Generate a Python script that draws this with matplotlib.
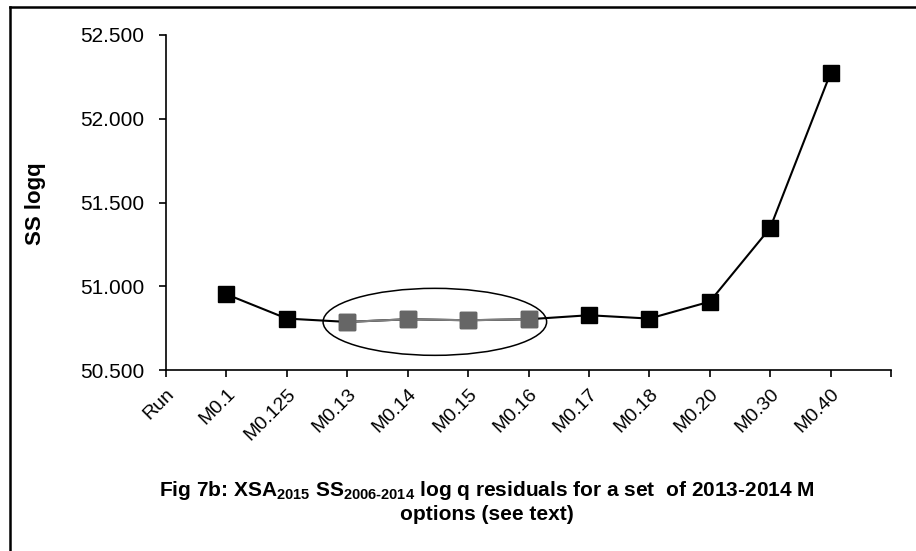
import matplotlib
matplotlib.use("Agg")
import matplotlib.pyplot as plt
from matplotlib.patches import Ellipse
from matplotlib.lines import Line2D
import matplotlib.transforms as mtransforms
import numpy as np

plt.rcParams['font.family'] = ['Liberation Sans', 'DejaVu Sans']
plt.rcParams['mathtext.fontset'] = 'custom'
plt.rcParams['mathtext.rm'] = 'Liberation Sans:bold'
plt.rcParams['mathtext.bf'] = 'Liberation Sans:bold'

categories = ["Run", "M0.1", "M0.125", "M0.13", "M0.14", "M0.15", "M0.16",
              "M0.17", "M0.18", "M0.20", "M0.30", "M0.40"]
ss_logq = [None, 50.952, 50.807, 50.787, 50.803, 50.797, 50.803,
           50.827, 50.807, 50.908, 51.348, 52.273]
highlight = ["M0.13", "M0.14", "M0.15", "M0.16"]
y_ticks = [50.5, 51.0, 51.5, 52.0, 52.5]
y_label = "SS logq"
caption = ("Fig 7b: XSA$_\\text{2015}$ SS$_\\text{2006-2014}$ log q residuals for a set  of 2013-2014 M\n"
           "options (see text)")

W, H = 916, 551
fig = plt.figure(figsize=(W / 100, H / 100), dpi=100)
ax = fig.add_axes([166 / W, 1 - 370 / H, (891 - 166) / W, (370 - 35) / H])

idx = [i for i, v in enumerate(ss_logq) if v is not None]
vals = [ss_logq[i] for i in idx]
ax.plot(idx, vals, color='black', lw=1.5, marker='s', ms=11,
        mfc='black', mec='black', zorder=3)

hidx = [categories.index(c) for c in highlight]
hvals = [ss_logq[i] for i in hidx]
ax.plot(hidx, hvals, color='#7f7f7f', lw=1.5, marker='s', ms=11,
        mfc='#666666', mec='#666666', zorder=4)

ell = Ellipse((np.mean(hidx) - 0.05, np.mean(hvals) - 0.01), width=3.7, height=0.40,
              fill=False, edgecolor='black', lw=1.1, zorder=5)
ax.add_patch(ell)

ax.set_xlim(0, len(categories))
ax.set_ylim(y_ticks[0], y_ticks[-1])
ax.set_yticks(y_ticks)
ax.set_yticklabels([f"{t:.3f}" for t in y_ticks], fontsize=15)
ax.set_xticks(range(len(categories) + 1))
ax.set_xticklabels(categories + [""], fontsize=14, rotation=45,
                   ha='right', va='top', rotation_mode='anchor')
for lab in ax.get_xticklabels():
    lab.set_transform(lab.get_transform() +
                      mtransforms.ScaledTranslation(1 / 100, -3 / 100, fig.dpi_scale_trans))
ax.tick_params(axis='both', direction='out', length=5, width=1.2, colors='black')
ax.tick_params(axis='y', pad=10.5)
ax.tick_params(axis='x', pad=6)
for s in ['top', 'right']:
    ax.spines[s].set_visible(False)
for s in ['left', 'bottom']:
    ax.spines[s].set_linewidth(1.2)

fig.text(36 / W, 1 - 204 / H, y_label, rotation=90, ha='center', va='center',
         fontsize=16, fontweight='bold')

fig.text(487 / W, 1 - 502 / H, caption, ha='center', va='center',
         fontsize=15, fontweight='bold', linespacing=1.2)

# outer frame (left and top edges)
fig.add_artist(Line2D([10 / W, 10 / W], [0, 1 - 7 / H], transform=fig.transFigure,
                      color='black', lw=1.8))
fig.add_artist(Line2D([10 / W, 1], [1 - 7 / H, 1 - 7 / H], transform=fig.transFigure,
                      color='black', lw=1.8))

fig.savefig("out.png", dpi=100)
